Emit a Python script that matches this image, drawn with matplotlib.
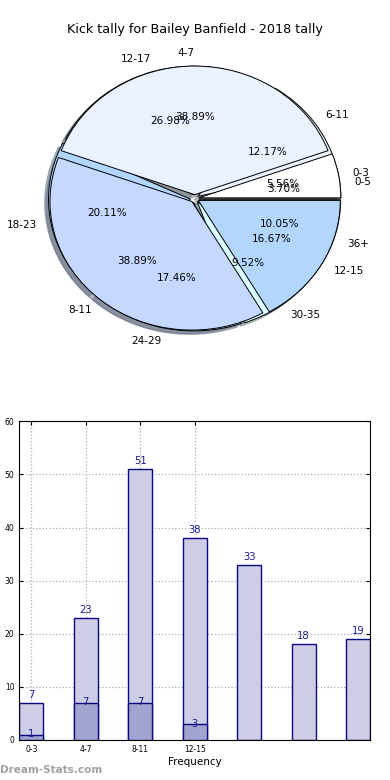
import matplotlib
matplotlib.use("Agg")
import matplotlib.pyplot as plt

# kick tally per quarter-time bucket (outer set) and the smaller 4-bucket set
kick_labels = ["0-5", "6-11", "12-17", "18-23", "24-29", "30-35", "36+"]
kick_counts = [7, 23, 51, 38, 33, 18, 19]
freq_labels = ["0-3", "4-7", "8-11", "12-15"]
freq_counts = [1, 7, 7, 3]

pie_colors = ["#ffffff", "#eaf1ff", "#c5d8ff", "#b3d6ff", "#c9dcff", "#dcffff", "#b5d5ff"]

fig = plt.figure(figsize=(3.9, 7.8), dpi=100)

fig.text(0.5, 1 - 30 / 780, "Kick tally for Bailey Banfield - 2018 tally",
         ha="center", va="center", fontsize=9.2)

# --- pie(s) ---
ax_pie = fig.add_axes([0.0441, 0.5394, 0.910, 0.4122])
for labels, counts in ((kick_labels, kick_counts), (freq_labels, freq_counts)):
    ax_pie.pie(counts, labels=labels, colors=pie_colors[:len(counts)],
               explode=[0.03] * len(counts), autopct="%.2f%%",
               shadow=dict(shade=0.5),
               wedgeprops=dict(edgecolor="black", linewidth=0.7),
               textprops=dict(fontsize=7.5))
ax_pie.set_aspect("auto")
ax_pie.set_xlim(-1.25, 1.25)
ax_pie.set_ylim(-1.25, 1.25)

# --- bars ---
ax = fig.add_axes([0.0496, 0.0513, 0.899, 0.4086])
w = 0.44
xs = list(range(len(kick_counts)))
ax.bar(xs, kick_counts, w, color="#cdcde5", edgecolor="#0a0a80", linewidth=1, zorder=2)
ax.bar(xs[:len(freq_counts)], freq_counts, w, color="#a3a3cf", edgecolor="#0a0a80",
       linewidth=1, zorder=3)
for x, h in zip(xs, kick_counts):
    ax.text(x, h + 0.6, str(h), ha="center", va="bottom", fontsize=7.2, color="#1a1a8c", zorder=4)
for x, h in zip(xs, freq_counts):
    ax.text(x, h + 0.1, str(h), ha="center", va="center", fontsize=7.2, color="#1a1a8c", zorder=4)

ax.set_xlim(-w / 2, xs[-1] + w / 2)
ax.set_ylim(0, 60)
ax.set_yticks(range(0, 61, 10))
ax.set_xticks(xs[:len(freq_labels)])
ax.set_xticklabels(freq_labels)
ax.tick_params(direction="in", top=True, right=True, labelsize=5.5, length=3)
ax.grid(True, linestyle=":", color="#aaaaaa", linewidth=0.9, zorder=0)
ax.set_axisbelow(True)
ax.set_xlabel("Frequency", fontsize=7.5, labelpad=2)

fig.text(0.0, 1 - 770 / 780, "Dream-Stats.com", ha="left", va="center",
         fontsize=7.5, color="#a0a0a0", weight="bold")

fig.savefig("out.png", dpi=100)
